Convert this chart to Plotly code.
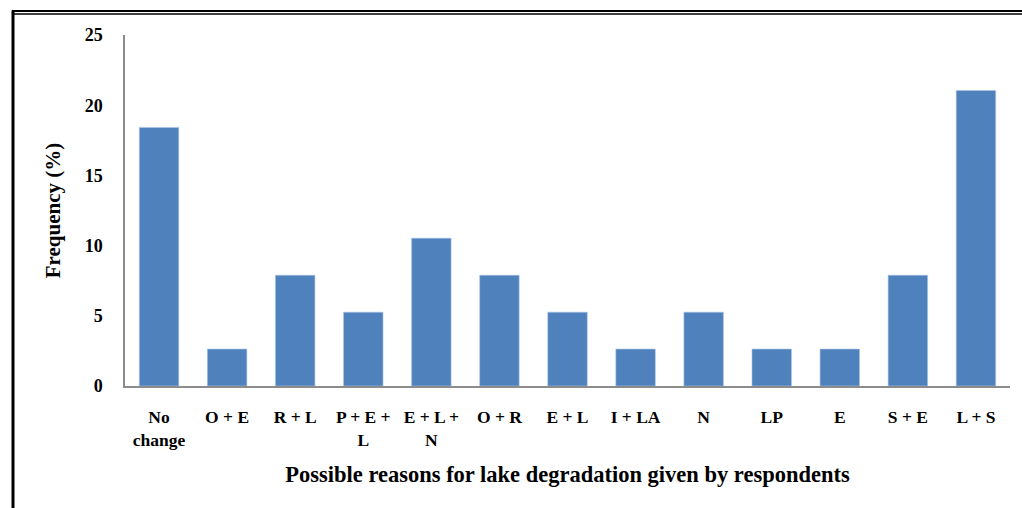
import plotly.graph_objects as go

# Survey responses (n = 38), shown as percentage of respondents
categories = ["No<br>change", "O + E", "R + L", "P + E +<br>L", "E + L +<br>N",
              "O + R", "E + L", "I + LA", "N", "LP", "E", "S + E", "L + S"]
frequency = [18.42, 2.63, 7.89, 5.26, 10.53, 7.89, 5.26, 2.63, 5.26, 2.63, 2.63, 7.89, 21.05]
y_ticks = [0, 5, 10, 15, 20, 25]

W, H = 1022, 508
L, R, T, B = 125, 12, 34.5, 121.5
FONT = "'Liberation Serif', 'Times New Roman', serif"
BLUE = "#4F81BD"


def px_x(x):
    return (x - L) / (W - L - R)


def px_y(y):
    return 1 - (y - T) / (H - T - B)


fig = go.Figure(go.Bar(
    x=categories,
    y=frequency,
    width=0.58,
    marker=dict(color=BLUE, line=dict(color="#A9C4E6", width=0.6)),
))

# Outer frame: thick left rule and a double rule along the top
frame = [
    dict(x0=px_x(13), x1=px_x(13), y0=px_y(10), y1=px_y(520), width=3),
    dict(x0=px_x(12), x1=px_x(1030), y0=px_y(10.5), y1=px_y(10.5), width=2),
    dict(x0=px_x(12), x1=px_x(1030), y0=px_y(13.5), y1=px_y(13.5), width=1.5),
]
for f in frame:
    fig.add_shape(type="line", xref="paper", yref="paper",
                  x0=f["x0"], x1=f["x1"], y0=f["y0"], y1=f["y1"],
                  line=dict(color="black", width=f["width"]))

fig.update_layout(
    width=W, height=H,
    margin=dict(l=L, r=R, t=T, b=B, pad=0),
    paper_bgcolor="white", plot_bgcolor="white",
    showlegend=False,
    font=dict(family=FONT, color="black"),
    xaxis=dict(
        showline=True, linecolor="#8C8C8C", linewidth=1.5,
        showgrid=False, ticks="", ticklabelstandoff=14,
        tickfont=dict(family=FONT, size=17.5, color="black", weight="bold"),
        title=dict(text="<b>Possible reasons for lake degradation given by respondents</b>",
                   font=dict(family=FONT, size=22.5, color="black"), standoff=18),
    ),
    yaxis=dict(
        range=[0, 25], tickvals=y_ticks,
        showline=True, linecolor="#8C8C8C", linewidth=1.5,
        showgrid=False, ticks="", ticklabelstandoff=17,
        tickfont=dict(family=FONT, size=18, color="black", weight="bold"),
        title=dict(text="<b>Frequency (%)</b>",
                   font=dict(family=FONT, size=21, color="black"), standoff=18),
    ),
)

fig.write_html("out.html")
